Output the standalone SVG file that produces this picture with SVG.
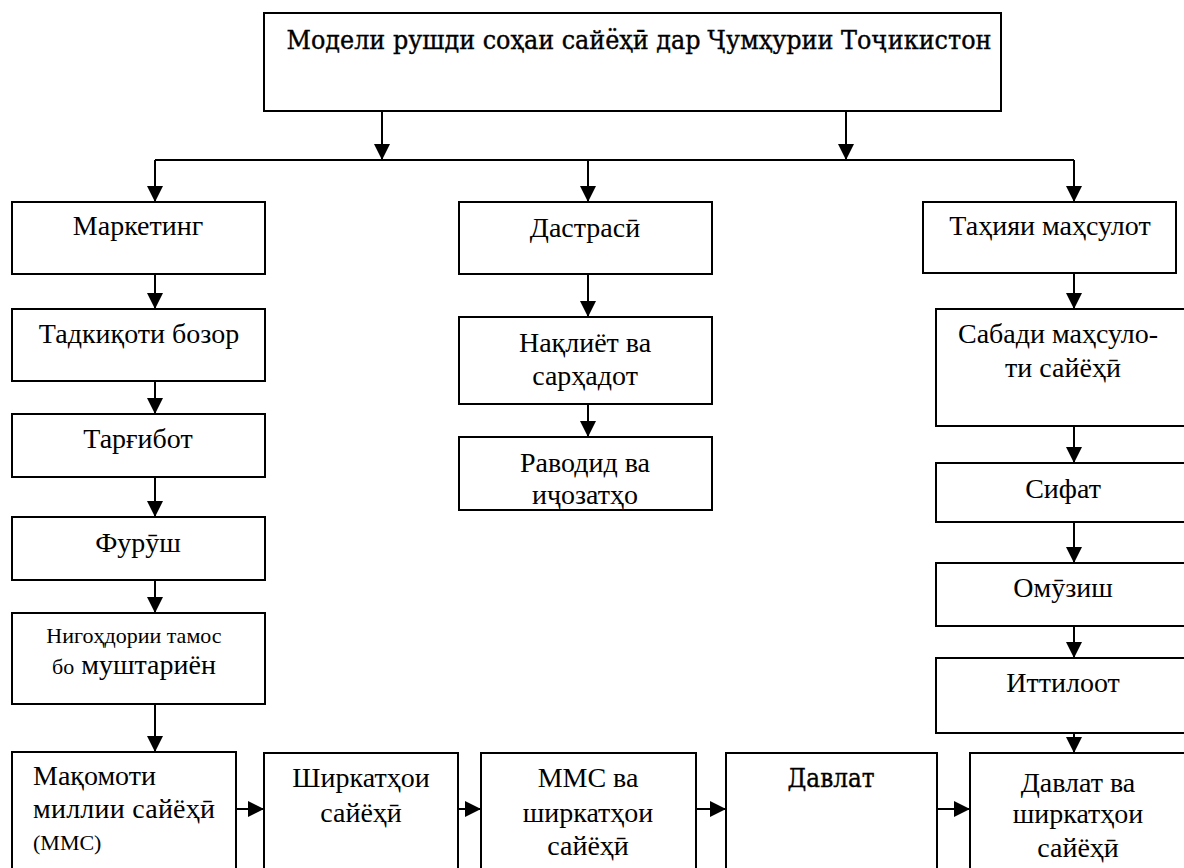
<svg xmlns="http://www.w3.org/2000/svg" width="1184" height="868" viewBox="0 0 1184 868">
<style>
.box{fill:#fff;stroke:#000;stroke-width:2}
.t{font-family:"Liberation Serif","Times New Roman",serif;font-size:28px;fill:#000;text-anchor:middle}
.s{font-size:22px}
.h{font-family:"DejaVu Serif",serif;font-size:26px;fill:#000;stroke:#000;stroke-width:0.4;text-anchor:middle}
.c{stroke:#000;stroke-width:2;fill:none;marker-end:url(#ah)}
</style>
<defs>
<marker id="ah" markerUnits="userSpaceOnUse" markerWidth="16" markerHeight="16" viewBox="0 0 16 16" refX="16" refY="8" orient="auto">
<path d="M0,0 L16,8 L0,16 z" fill="#000"/>
</marker>
</defs>
<rect width="1184" height="868" fill="#fff"/>
<g id="connectors">
<line class="c" x1="382" y1="111" x2="382" y2="160"/>
<line class="c" x1="846" y1="111" x2="846" y2="160"/>
<polyline points="155,160 1074,160" stroke="#000" stroke-width="2" fill="none"/>
<line class="c" x1="155" y1="160" x2="155" y2="202"/>
<line class="c" x1="588" y1="160" x2="588" y2="202"/>
<line class="c" x1="1074" y1="160" x2="1074" y2="202"/>
<line class="c" x1="155" y1="274" x2="155" y2="309"/>
<line class="c" x1="155" y1="381" x2="155" y2="414"/>
<line class="c" x1="155" y1="477" x2="155" y2="517"/>
<line class="c" x1="155" y1="580" x2="155" y2="613"/>
<line class="c" x1="155" y1="704" x2="155" y2="752"/>
<line class="c" x1="588" y1="274" x2="588" y2="317"/>
<line class="c" x1="588" y1="404" x2="588" y2="437"/>
<line class="c" x1="1074" y1="273" x2="1074" y2="309"/>
<line class="c" x1="1074" y1="426" x2="1074" y2="463"/>
<line class="c" x1="1074" y1="522" x2="1074" y2="563"/>
<line class="c" x1="1074" y1="626" x2="1074" y2="658"/>
<line class="c" x1="1074" y1="722" x2="1074" y2="753"/>
<line class="c" x1="236" y1="809" x2="264" y2="809"/>
<line class="c" x1="458" y1="809" x2="481" y2="809"/>
<line class="c" x1="696" y1="809" x2="726" y2="809"/>
<line class="c" x1="937" y1="809" x2="970" y2="809"/>
</g>
<g id="title"><rect class="box" x="264" y="13" width="737" height="98"/>
<text class="h" x="639" y="49" textLength="705" lengthAdjust="spacingAndGlyphs">Модели рушди соҳаи сайёҳӣ дар Ҷумҳурии Тоҷикистон</text></g>
<g id="marketing"><rect class="box" x="12" y="202" width="253" height="72"/><text class="t" x="138" y="235">Маркетинг</text></g>
<g id="tadqiqot"><rect class="box" x="12" y="309" width="253" height="72"/><text class="t" x="139" y="343">Тадкиқоти бозор</text></g>
<g id="targhibot"><rect class="box" x="12" y="414" width="253" height="63"/><text class="t" x="138" y="448">Тарғибот</text></g>
<g id="furush"><rect class="box" x="12" y="517" width="253" height="63"/><text class="t" x="138" y="552">Фурӯш</text></g>
<g id="nigohdori"><rect class="box" x="12" y="613" width="253" height="91"/><text class="t s" x="134" y="643">Нигоҳдории тамос</text><text class="t" x="134" y="674"><tspan class="s">бо</tspan> муштариён</text></g>
<g id="maqomot"><rect class="box" x="12" y="752" width="224" height="120"/><text class="t" style="text-anchor:start" x="33" y="785">Мақомоти</text><text class="t" style="text-anchor:start" x="33" y="818" textLength="182" lengthAdjust="spacing">миллии  сайёҳӣ</text><text class="t s" style="text-anchor:start" x="33" y="850">(ММС)</text></g>
<g id="shirkatho"><rect class="box" x="264" y="753" width="194" height="120"/><text class="t" x="361" y="787">Ширкатҳои</text><text class="t" x="361" y="822">сайёҳӣ</text></g>
<g id="mms"><rect class="box" x="481" y="753" width="215" height="120"/><text class="t" x="588" y="787">ММС ва</text><text class="t" x="588" y="822">ширкатҳои</text><text class="t" x="588" y="855">сайёҳӣ</text></g>
<g id="davlat"><rect class="box" x="726" y="753" width="211" height="120"/><text class="h" x="831" y="787" textLength="87" lengthAdjust="spacingAndGlyphs">Давлат</text></g>
<g id="davlatva"><rect class="box" x="970" y="753" width="230" height="120"/><text class="t" x="1078" y="792">Давлат ва</text><text class="t" x="1078" y="823">ширкатҳои</text><text class="t" x="1078" y="857">сайёҳӣ</text></g>
<g id="dastrasi"><rect class="box" x="459" y="202" width="253" height="72"/><text class="t" x="585" y="237">Дастрасӣ</text></g>
<g id="naqliyot"><rect class="box" x="459" y="317" width="253" height="87"/><text class="t" x="585" y="352">Нақлиёт ва</text><text class="t" x="585" y="385">сарҳадот</text></g>
<g id="ravodid"><rect class="box" x="459" y="437" width="253" height="73"/><text class="t" x="585" y="472">Раводид ва</text><text class="t" x="585" y="504">иҷозатҳо</text></g>
<g id="tahiya"><rect class="box" x="923" y="202" width="253" height="71"/><text class="t" x="1050" y="235">Таҳияи маҳсулот</text></g>
<g id="sabad"><rect class="box" x="936" y="309" width="260" height="117"/><text class="t" x="1058" y="343">Сабади маҳсуло-</text><text class="t" x="1063" y="377">ти сайёҳӣ</text></g>
<g id="sifat"><rect class="box" x="936" y="463" width="260" height="59"/><text class="t" x="1063" y="498">Сифат</text></g>
<g id="omuzish"><rect class="box" x="936" y="563" width="260" height="63"/><text class="t" x="1063" y="597">Омӯзиш</text></g>
<g id="ittiloot"><rect class="box" x="936" y="658" width="260" height="75"/><text class="t" x="1063" y="692">Иттилоот</text></g>
</svg>
